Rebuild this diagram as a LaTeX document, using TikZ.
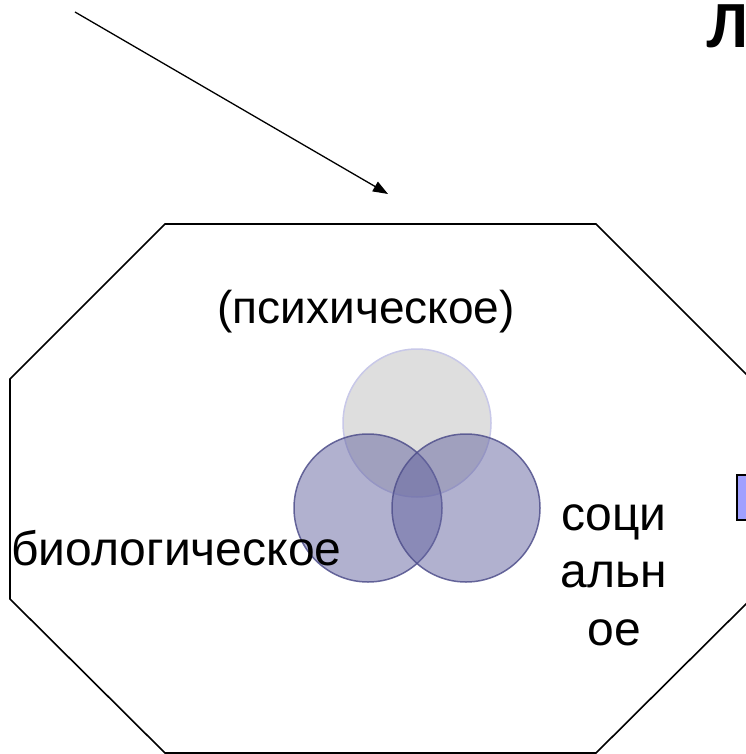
\documentclass[tikz,border=0pt]{standalone}
\usepackage{fontspec}
\setmainfont{Liberation Sans}
\newfontfamily\titlefont{Carlito}
\usetikzlibrary{arrows.meta}
\definecolor{topfill}{RGB}{222,222,222}
\definecolor{topline}{RGB}{200,200,232}
\definecolor{venn}{RGB}{100,100,160}
\definecolor{vennline}{RGB}{80,80,140}
\definecolor{boxfill}{RGB}{160,160,255}
\tikzset{
  outline/.style={line width=1.6pt, draw=black, line join=miter},
  topcirc/.style={circle, minimum size=148pt, inner sep=0pt, fill=topfill, draw=topline, line width=1.5pt},
  lowcirc/.style={circle, minimum size=148pt, inner sep=0pt, fill=venn, fill opacity=0.5, draw=vennline, draw opacity=0.85, line width=1.5pt},
  label/.style={inner sep=0pt, text=black}
}
\begin{document}
\begin{tikzpicture}[x=1pt,y=-1pt]
\useasboundingbox (0,0) rectangle (745,754);
% octagon
\draw[outline] (165,224) -- (596,224) -- (751,379) -- (751,599) -- (596,753) -- (165,753) -- (10,599) -- (10,379) -- cycle;
% small box at right edge
\node[draw=black, line width=1.5pt, fill=boxfill, minimum width=16pt, minimum height=45pt, inner sep=0pt, anchor=north west] (box) at (736,474) {};
% arrow
\coordinate (ast) at (75,12);
\coordinate (aend) at (388,194);
\draw[line width=1.3pt, -{Triangle[length=15pt,width=11pt]}] (ast) -- (aend);
% title letter
\node[label, anchor=base west, font=\titlefont\bfseries\fontsize{66}{78}\selectfont] (title) at (706,48) {Л};
% circles
\node[topcirc] (psy) at (417,423) {};
\node[lowcirc] (bio) at (368,508) {};
\node[lowcirc] (soc) at (466,508) {};
% labels
\node[label, anchor=base, font=\fontsize{46}{55}\selectfont] (psylabel) at (366,323) {(психическое)};
\node[label, anchor=base, font=\fontsize{48}{57}\selectfont] (biolabel) at (176.5,565) {биологическое};
\node[label, anchor=base, align=center, font=\fontsize{48}{57.5}\selectfont] (soclabel) at (614,645) {соци\\альн\\ое};
\end{tikzpicture}
\end{document}
